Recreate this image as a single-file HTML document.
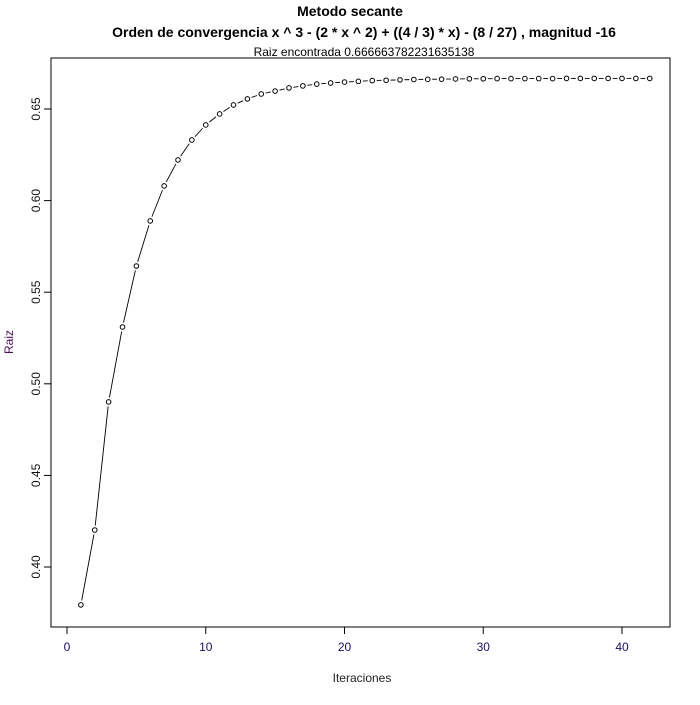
<!DOCTYPE html>
<html><head><meta charset="utf-8"><style>
body{margin:0;background:#fff;}
svg text{font-family:"Liberation Sans",Arial,sans-serif;}
</style></head><body>
<svg id="chart" width="700" height="700">
<rect width="700" height="700" fill="#fff"/>
<text x="350" y="16" text-anchor="middle" font-size="14" font-weight="bold">Metodo secante</text>
<text x="364" y="37" text-anchor="middle" font-size="14" font-weight="bold">Orden de convergencia x ^ 3 - (2 * x ^ 2) + ((4 / 3) * x) - (8 / 27) , magnitud -16</text>
<text x="364" y="56" text-anchor="middle" font-size="12">Raiz encontrada 0.666663782231635138</text>
<rect x="51" y="58" width="619" height="569" fill="none" stroke="#000"/>
<text x="362" y="682" text-anchor="middle" font-size="12" fill="#222">Iteraciones</text>
<text transform="translate(13,342) rotate(-90)" text-anchor="middle" font-size="12" fill="#4a1050">Raiz</text>
<g id="axes"></g><g id="series"></g>
</svg>
<script>
const xTicks=[0,10,20,30,40];
const yTicks=[0.40,0.45,0.50,0.55,0.60,0.65];
const yTickLabels=["0.40","0.45","0.50","0.55","0.60","0.65"];
const iterations=[];for(let i=1;i<=42;i++)iterations.push(i);
const rootValues=[0.3793,0.4202,0.4901,0.5310,0.5643,0.5889,0.6080,0.6222,0.6331,0.6413,0.6473,0.6522,0.6555,0.6582,0.6598,0.6615,0.6626,0.6636,0.6642,0.6647,0.6651,0.6655,0.6657,0.6659,0.6661,0.6662,0.6663,0.6664,0.6665,0.6665,0.6666,0.6666,0.6666,0.6666,0.6666,0.6667,0.6667,0.6667,0.6667,0.6667,0.6667,0.6667];
const NS="http://www.w3.org/2000/svg";
const X=v=>67+v*13.875, Y=v=>567-(v-0.40)*1832;
function mk(t,a,p){const e=document.createElementNS(NS,t);for(const k in a)e.setAttribute(k,a[k]);p.appendChild(e);return e;}
const ax=document.getElementById('axes'), se=document.getElementById('series');
mk('line',{x1:X(0),x2:X(40),y1:627,y2:627,stroke:'#000'},ax);
xTicks.forEach(t=>{mk('line',{x1:X(t),x2:X(t),y1:627,y2:634,stroke:'#000'},ax);
const tx=mk('text',{x:X(t),y:651,'text-anchor':'middle','font-size':12,fill:'#1a1060'},ax);tx.textContent=t;

});
mk('line',{x1:51,x2:51,y1:Y(0.40),y2:Y(0.65),stroke:'#000'},ax);
yTicks.forEach((t,i)=>{mk('line',{x1:44,x2:51,y1:Y(t),y2:Y(t),stroke:'#000'},ax);
const tx=mk('text',{transform:`translate(40,${Y(t)}) rotate(-90)`,'text-anchor':'middle','font-size':12,fill:'#111'},ax);tx.textContent=yTickLabels[i];

});
const gap=4.5;
for(let i=0;i<iterations.length-1;i++){
 const x1=X(iterations[i]),y1=Y(rootValues[i]),x2=X(iterations[i+1]),y2=Y(rootValues[i+1]);
 const d=Math.hypot(x2-x1,y2-y1); if(d<=2*gap+0.5) continue;
 const ux=(x2-x1)/d,uy=(y2-y1)/d;
 const s=mk('line',{x1:x1+ux*gap,y1:y1+uy*gap,x2:x2-ux*gap,y2:y2-uy*gap,stroke:'#000','stroke-width':0.9},se);
 
 
}
iterations.forEach((x,i)=>{const c=mk('circle',{cx:X(x),cy:Y(rootValues[i]),r:2.3,fill:'none',stroke:'#000'},se);

});
</script>
</body></html>
